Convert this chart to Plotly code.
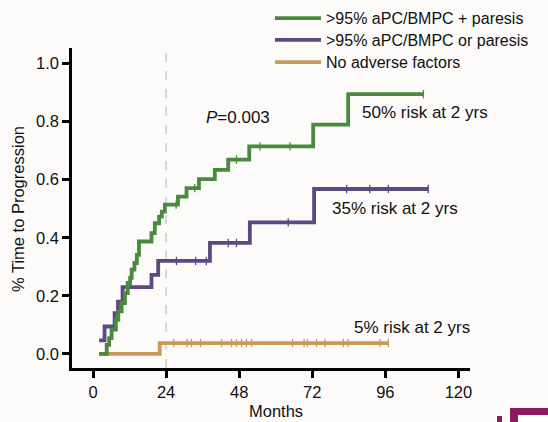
import plotly.graph_objects as go

# ---------------- data ----------------
green_name = ">95% aPC/BMPC + paresis"
purple_name = ">95% aPC/BMPC or paresis"
tan_name = "No adverse factors"

green_t = [2.0, 4.5, 5.3, 6.1, 7.5, 8.3, 9.4, 10.5, 11.4, 12.2, 12.7, 13.6, 14.4, 15.1,
           19.2, 20.3, 21.7, 22.6, 23.6, 27.9, 30.7, 34.8, 40.0, 44.4, 51.3, 72.3, 83.8, 108.5]
green_v = [0.0, 0.031, 0.054, 0.083, 0.117, 0.146, 0.175, 0.209, 0.244, 0.262, 0.290, 0.313, 0.341, 0.387,
           0.416, 0.450, 0.473, 0.490, 0.514, 0.542, 0.571, 0.602, 0.634, 0.669, 0.715, 0.790, 0.895, 0.895]
green_cens = [27.3, 33.4, 47.1, 54.8, 64.7, 108.5]

purple_t = [2.0, 3.8, 7.1, 8.2, 9.7, 19.2, 21.4, 38.4, 51.5, 72.6, 110.1]
purple_v = [0.046, 0.094, 0.140, 0.180, 0.230, 0.272, 0.320, 0.382, 0.453, 0.568, 0.568]
purple_cens = [27.4, 33.7, 37.2, 44.4, 47.1, 64.1, 83.3, 90.9, 97.0, 110.1]

tan_t = [2.0, 21.9, 97.0]
tan_v = [0.0, 0.037, 0.037]
tan_cens = [26.5, 30.9, 32.3, 35.3, 42.2, 45.5, 47.1, 48.8, 50.4, 52.1, 65.5, 69.3,
            70.4, 73.4, 76.2, 82.2, 83.8, 94.2, 97.0]

x_ticks = [0, 24, 48, 72, 96, 120]
y_ticks = [0.0, 0.2, 0.4, 0.6, 0.8, 1.0]
landmark_month = 24

risk_labels = ["50% risk at 2 yrs", "35% risk at 2 yrs", "5% risk at 2 yrs"]
p_label = "<i>P</i>=0.003"

# ---------------- style ----------------
GREEN = "#4a8a3c"
PURPLE = "#5b4a82"
TAN = "#c8995a"
FONT = "Liberation Sans, Arial, sans-serif"
FS = 16.5
FL = 16
FA = 17
TXT = "#111111"
BG = "#fdfbfa"

W, H = 548, 422
ML, MR, MT, MB = 72, 78, 48, 54


def px2paper(X, Y):
    return (X - ML) / (W - ML - MR), (H - MB - Y) / (H - MT - MB)


def step_value(ts, vs, t):
    val = vs[0]
    for ti, vi in zip(ts, vs):
        if ti <= t:
            val = vi
    return val


fig = go.Figure()

# drawing order (bottom to top) with legend slot for each series
series = [
    (tan_name, tan_t, tan_v, tan_cens, TAN, "legend3", 62.3),
    (purple_name, purple_t, purple_v, purple_cens, PURPLE, "legend2", 40.0),
    (green_name, green_t, green_v, green_cens, GREEN, "legend", 18.3),
]

legend_layouts = {}
for name, ts, vs, cens, col, leg, row_y in series:
    fig.add_trace(go.Scatter(
        x=ts, y=vs, mode="lines", name=name,
        line=dict(color=col, width=3.8, shape="hv"),
        legendgroup=name, showlegend=True, legend=leg,
    ))
    fig.add_trace(go.Scatter(
        x=cens, y=[step_value(ts, vs, c) for c in cens], mode="markers",
        marker=dict(symbol="line-ns", size=6, line=dict(color=col, width=1.3)),
        legendgroup=name, showlegend=False, hoverinfo="skip", legend=leg,
    ))
    lx, ly = px2paper(270, row_y)
    legend_layouts[leg] = dict(x=lx, y=ly, xanchor="left", yanchor="middle",
                               bgcolor="rgba(0,0,0,0)", font=dict(size=FL, family=FONT, color=TXT),
                               itemwidth=46, tracegroupgap=0)

# dashed landmark line at 24 months
fig.add_shape(type="line", xref="x", yref="paper", x0=landmark_month, x1=landmark_month,
              y0=0.0, y1=0.99, line=dict(color="#d6d6d6", width=2, dash="dash"), layer="below")

# text annotations
ann_pos = [(87.7, 0.832), (77.8, 0.500), (84.9, 0.092)]
for txt, (ax_, ay_) in zip(risk_labels, ann_pos):
    fig.add_annotation(x=ax_, y=ay_, xref="x", yref="y", text=txt, showarrow=False,
                       xanchor="left", yanchor="middle", font=dict(size=FA, color=TXT, family=FONT))
fig.add_annotation(x=36.4, y=0.815, xref="x", yref="y", text=p_label, showarrow=False,
                   xanchor="left", yanchor="middle", font=dict(size=FA, color=TXT, family=FONT))

# axis titles
mx, my = px2paper(275.5, 411)
fig.add_annotation(x=mx, y=my, xref="paper", yref="paper", text="Months", showarrow=False,
                   xanchor="center", yanchor="middle", font=dict(size=FS, color=TXT, family=FONT))
tx, ty = px2paper(18, 209)
fig.add_annotation(x=tx, y=ty, xref="paper", yref="paper", text="% Time to Progression",
                   showarrow=False, textangle=-90, xanchor="center", yanchor="middle",
                   font=dict(size=FS, color=TXT, family=FONT))

# logo fragment bottom right
for (x0, y0, x1, y1, c) in [(497, 416, 502, 422, "#8c1d5c"), (510, 408, 548, 422, "#8c1d5c"),
                            (518, 415, 548, 422, "#ffffff")]:
    p0 = px2paper(x0, y1)
    p1 = px2paper(x1, y0)
    fig.add_shape(type="rect", xref="paper", yref="paper", x0=p0[0], y0=p0[1], x1=p1[0], y1=p1[1],
                  line=dict(width=0), fillcolor=c, layer="above")

fig.update_layout(
    width=W, height=H,
    margin=dict(l=ML, r=MR, t=MT, b=MB, autoexpand=False),
    paper_bgcolor=BG, plot_bgcolor=BG,
    font=dict(family=FONT, size=FS, color=TXT),
    showlegend=True,
    legend=legend_layouts["legend"],
    legend2=legend_layouts["legend2"],
    legend3=legend_layouts["legend3"],
    xaxis=dict(range=[-6.9, 123.8], tickvals=x_ticks, ticktext=[str(v) for v in x_ticks],
               showgrid=False, zeroline=False, showline=True, linecolor="#000000", linewidth=2.5,
               ticks="outside", ticklen=7, tickwidth=2.5, tickcolor="#000000",
               tickfont=dict(size=FS, family=FONT, color=TXT)),
    yaxis=dict(range=[-0.049, 1.054], tickvals=y_ticks, ticktext=["%.1f" % v for v in y_ticks],
               showgrid=False, zeroline=False, showline=True, linecolor="#000000", linewidth=2.5,
               ticks="outside", ticklen=7, tickwidth=2.5, tickcolor="#000000",
               tickfont=dict(size=FS, family=FONT, color=TXT)),
)

fig.write_html("out.html")
